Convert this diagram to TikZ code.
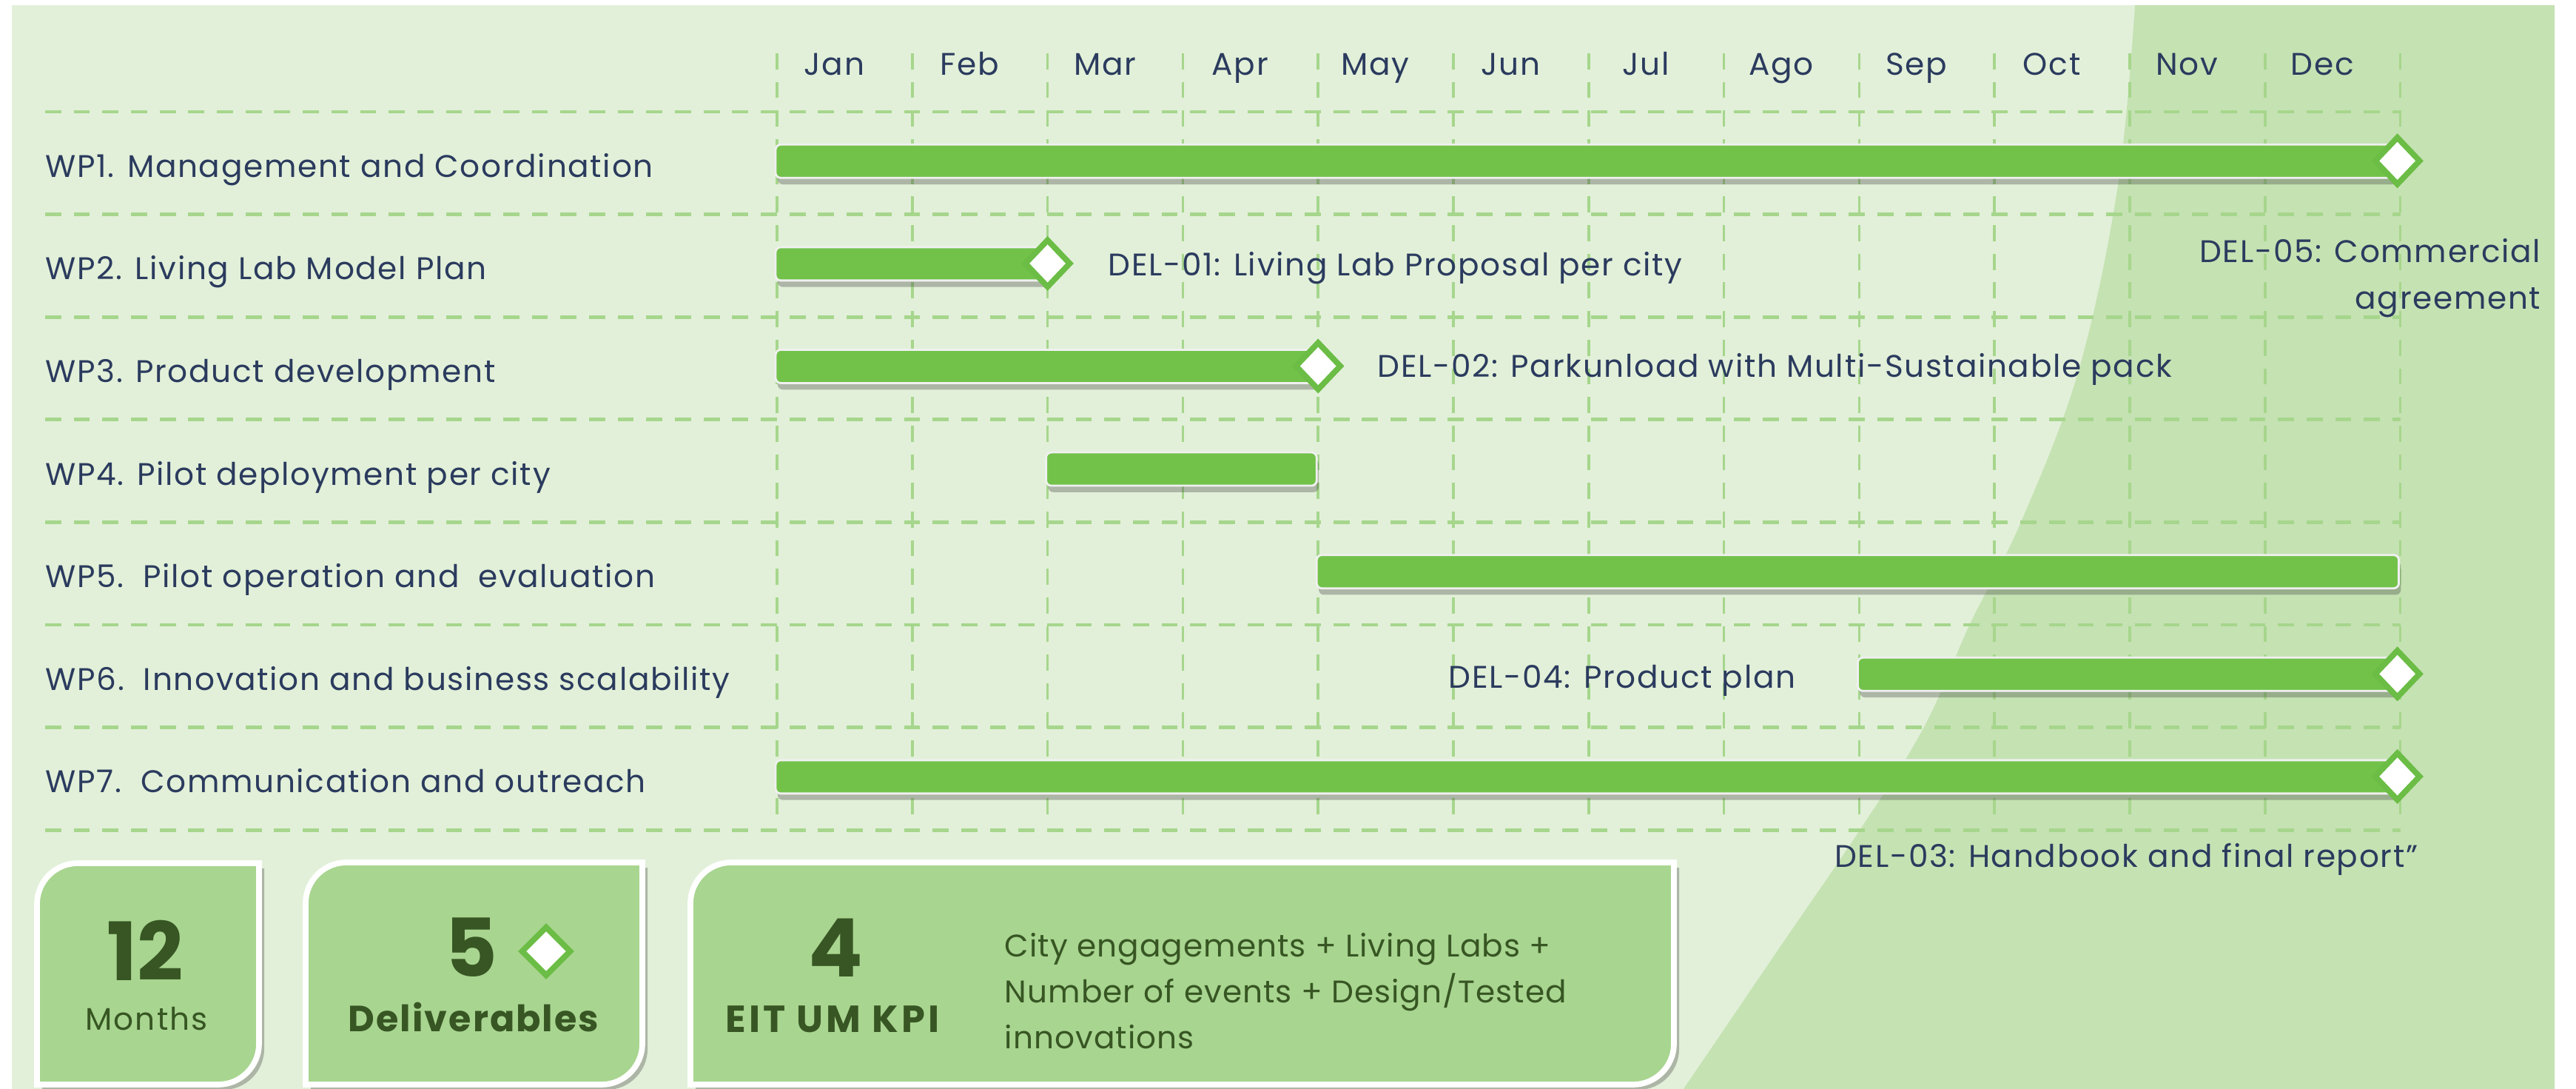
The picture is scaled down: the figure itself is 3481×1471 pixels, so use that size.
\documentclass[tikz,border=0pt]{standalone}
\usepackage{fontspec}
\setmainfont{Poppins}
\newfontfamily\chartface[LetterSpace=4]{Poppins}
\newfontfamily\kpiface[LetterSpace=5]{Poppins}
\newfontfamily\kpiwideface[LetterSpace=8]{Poppins}
\newfontfamily\kpitextface[LetterSpace=2.5]{Poppins}
\usepackage{xcolor}
\usetikzlibrary{positioning,calc,shapes.geometric,shadows}

\definecolor{panelgreen}{HTML}{E2F0D9}
\definecolor{panelshade}{HTML}{C5E2B3}
\definecolor{bargreen}{HTML}{72C24A}
\definecolor{markgreen}{HTML}{6BBD45}
\definecolor{gridgreen}{HTML}{A6D68C}
\definecolor{boxgreen}{HTML}{A8D590}
\definecolor{textnavy}{HTML}{2B3B5E}
\definecolor{textgreen}{HTML}{375623}

\newcommand{\ganttleft}{1050}
\newcommand{\monthwidth}{182.8}
\newcommand{\rowtop}{151}
\newcommand{\rowheight}{138.6}
\newcommand{\kpiradius}{55}
% box with round top-left and bottom-right corners: x1 y1 x2 y2
\newcommand{\kpishape}[4]{(#1,#4) -- (#1,#2+\kpiradius)
  .. controls (#1,#2+0.45*\kpiradius) and (#1+0.45*\kpiradius,#2) .. (#1+\kpiradius,#2)
  -- (#3,#2) -- (#3,#4-\kpiradius)
  .. controls (#3,#4-0.45*\kpiradius) and (#3-0.45*\kpiradius,#4) .. (#3-\kpiradius,#4) -- cycle}

\tikzset{
  chartfont/.style={font=\chartface\fontsize{12}{14}\selectfont},
  wplabel/.style={chartfont, anchor=base west, inner sep=0pt, text=textnavy},
  monthlabel/.style={chartfont, anchor=base, inner sep=0pt, text=textnavy},
  dellabel/.style={chartfont, inner sep=0pt, text=textnavy},
  vline/.style={gridgreen, line width=1pt, dash pattern=on 6.2pt off 4.8pt},
  hline/.style={gridgreen, line width=1.4pt, dash pattern=on 6.2pt off 4.8pt},
  bar/.style={fill=bargreen, draw=white!88!gray, line width=0.8pt, rounded corners=2pt,
    drop shadow={shadow xshift=0.8pt, shadow yshift=-2.5pt, opacity=0.3, fill=black!80}},
  milestone/.style={diamond, draw=markgreen, fill=white, line width=2.2pt, inner sep=0pt,
    minimum width=0.63cm, minimum height=0.66cm},
  kpibox/.style={fill=boxgreen, draw=white, line width=2.2pt,
    drop shadow={shadow xshift=2pt, shadow yshift=-2pt, opacity=0.3, fill=black!80}},
  kpinumber/.style={anchor=base, inner sep=0pt, text=textgreen,
    font=\fontsize{31}{32}\selectfont\bfseries},
  kpiword/.style={anchor=base, inner sep=0pt, text=textgreen},
}

\begin{document}
\begin{tikzpicture}[x=0.01cm, y=-0.01cm]
  \useasboundingbox (0,0) rectangle (3481,1471);
  \fill[white] (0,0) rectangle (3481,1471);
  \fill[panelgreen] (16,7) rectangle (3452,1471);
  \fill[panelshade] plot[smooth, tension=0.6] coordinates {(2885,7) (2862,250) (2809,500)
      (2731,705) (2662,843) (2600,982) (2514,1120) (2400,1287) (2275,1471)}
    -- (3452,1471) -- (3452,7) -- cycle;

  % grid
  \foreach \i in {0,...,12}
    \draw[vline] (\ganttleft+\i*\monthwidth, 72) -- (\ganttleft+\i*\monthwidth, 1110);
  \foreach \j in {0,...,7}
    \draw[hline] (61, \rowtop+\j*\rowheight) -- (3244, \rowtop+\j*\rowheight);

  % months
  \foreach \m [count=\i from 0] in {Jan,Feb,Mar,Apr,May,Jun,Jul,Ago,Sep,Oct,Nov,Dec}
    \node[monthlabel] (month\i) at (\ganttleft+\i*\monthwidth+0.5*\monthwidth-14, 102) {\m};

  % work packages
  \foreach \t [count=\r] in {WP1. Management and Coordination, WP2. Living Lab Model Plan,
      WP3. Product development, WP4. Pilot deployment per city,
      WP5.\ \ Pilot operation and\ \ evaluation, WP6.\ \ Innovation and business scalability,
      WP7.\ \ Communication and outreach}
    \node[wplabel] (wp\r) at (61, \rowtop+\r*\rowheight-\rowheight/2+19) {\t};

  % bars: row/start/end
  \foreach \r/\s/\e in {1/0/12, 2/0/2, 3/0/4, 4/2/4, 5/4/12, 6/8/12, 7/0/12}
    \draw[bar] (\ganttleft+\s*\monthwidth-2, \rowtop+\r*\rowheight-\rowheight/2-25)
      rectangle (\ganttleft+\e*\monthwidth-2, \rowtop+\r*\rowheight-\rowheight/2+20);

  % deliverables
  \node[milestone] (del05) at (\ganttleft+12*\monthwidth-4, \rowtop+0.5*\rowheight-3) {};
  \node[milestone] (del01) at (\ganttleft+2*\monthwidth, \rowtop+1.5*\rowheight-3) {};
  \node[milestone] (del02) at (\ganttleft+4*\monthwidth, \rowtop+2.5*\rowheight-3) {};
  \node[milestone] (del04) at (\ganttleft+12*\monthwidth-4, \rowtop+5.5*\rowheight-3) {};
  \node[milestone] (del03) at (\ganttleft+12*\monthwidth-4, \rowtop+6.5*\rowheight-3) {};

  \node[dellabel, anchor=base west] (del01text) at (1497,373) {DEL-01: Living Lab Proposal per city};
  \node[dellabel, anchor=base west] (del02text) at (1861,510) {DEL-02: Parkunload with Multi-Sustainable pack};
  \node[dellabel, anchor=base east] (del04text) at (2427,930) {DEL-04: Product plan};
  \node[dellabel, anchor=base east] (del05text) at (3434,355) {DEL-05: Commercial};
  \node[dellabel, anchor=base east] (del05more) at (3434,418) {agreement};
  \node[dellabel, anchor=base east] (del03text) at (3268,1172) {DEL-03: Handbook and final report”};

  % key figures
  \draw[kpibox] \kpishape{50}{1166}{350}{1465};
  \draw[kpibox] \kpishape{413}{1165}{868}{1465};
  \draw[kpibox] \kpishape{933}{1165}{2262}{1465};

  \node[kpinumber] (months) at (196,1325) {12};
  \node[kpiword, font=\kpiface\fontsize{12}{14}\selectfont] (monthsword) at (198,1392) {Months};
  \node[kpinumber] (delnumber) at (637,1320) {5};
  \node[milestone, minimum width=0.68cm, minimum height=0.68cm] (delmark) at (738,1285) {};
  \node[kpiword, font=\chartface\fontsize{14}{16}\selectfont\bfseries] (delword) at (640,1393) {Deliverables};
  \node[kpinumber] (kpinumber) at (1129,1320) {4};
  \node[kpiword, font=\kpiwideface\fontsize{14.5}{16}\selectfont\bfseries] (kpiword) at (1125,1395) {EIT UM KPI};
  \foreach \t [count=\i from 0] in {City engagements + Living Labs +,
      Number of events + Design/Tested, innovations}
    \node[kpiword, anchor=base west, font=\kpitextface\fontsize{12}{14}\selectfont] (kpiline\i)
      at (1357,1293+\i*62) {\t};
\end{tikzpicture}
\end{document}
